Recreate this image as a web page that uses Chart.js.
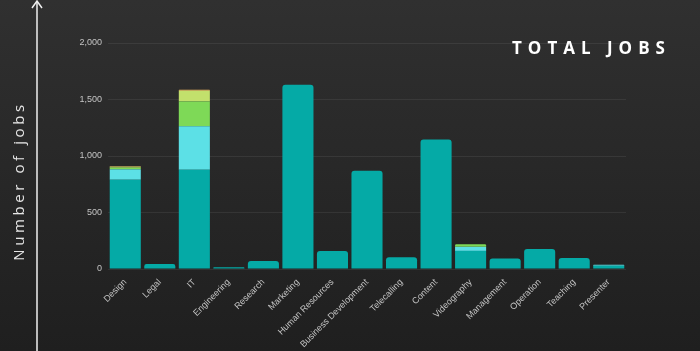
<!DOCTYPE html>
<html>
<head>
<meta charset="utf-8">
<script src="https://cdn.jsdelivr.net/npm/chart.js@4"></script>
<style>
  html, body { margin: 0; padding: 0; }
  body {
    width: 700px; height: 351px; overflow: hidden; position: relative;
    background: linear-gradient(#303030, #1f1f1f);
  }
  #wrap { position: absolute; left: 0; top: 0; width: 700px; height: 351px; }
  #title {
    position: absolute; left: 512px; top: 36px;
    font: bold 17px "Open Sans", sans-serif; letter-spacing: 6px; color: #fff;
  }
  #ytitle {
    position: absolute; left: 18px; top: 181px;
    transform: translate(-50%, -50%) rotate(-90deg);
    font: 15px "Open Sans", sans-serif; letter-spacing: 3.6px; color: #e6e6e6;
    white-space: nowrap;
  }
  svg { position: absolute; left: 0; top: 0; }
</style>
</head>
<body>
<div id="wrap"><canvas id="jobsChart" width="700" height="351"></canvas></div>
<svg width="60" height="351">
  <line x1="37" y1="2" x2="37" y2="351" stroke="#f0f0f0" stroke-width="1.5"/>
  <polyline points="32,8 37,1 42,8" fill="none" stroke="#f0f0f0" stroke-width="1.5"/>
</svg>
<div id="ytitle">Number of jobs</div>
<div id="title">TOTAL JOBS</div>
<script>
// categories on the x axis
const categories = ['Design', 'Legal', 'IT', 'Engineering', 'Research', 'Marketing',
  'Human Resources', 'Business Development', 'Telecalling', 'Content', 'Videography',
  'Management', 'Operation', 'Teaching', 'Presenter'];

// stacked series (bottom to top)
const series1 = [790, 44, 878, 15, 70, 1630, 160, 870, 105, 1145, 160, 94, 176, 97, 28];
const series2 = [92, 0, 385, 0, 0, 0, 0, 0, 0, 0, 36, 0, 0, 0, 10];
const series3 = [15, 0, 220, 0, 0, 0, 0, 0, 0, 0, 22, 0, 0, 0, 0];
const series4 = [8, 0, 95, 0, 0, 0, 0, 0, 0, 0, 0, 0, 0, 0, 0];
const series5 = [4, 0, 8, 0, 0, 0, 0, 0, 0, 0, 0, 0, 0, 0, 0];

const yTicks = [0, 500, 1000, 1500, 2000];

const allSeries = [series1, series2, series3, series4, series5];
const colors = ['#05aaa6', '#5ce0e6', '#7ed957', '#c2e06c', '#f2b662'];

// round only the top segment of each stack
function topIndex(i) {
  let top = 0;
  allSeries.forEach((s, k) => { if (s[i] > 0) top = k; });
  return top;
}

const ctx = document.getElementById('jobsChart').getContext('2d');

new Chart(ctx, {
  type: 'bar',
  data: {
    labels: categories,
    datasets: allSeries.map((s, k) => ({
      data: s,
      backgroundColor: colors[k],
      borderRadius: c => (topIndex(c.dataIndex) === c.datasetIndex ? 3 : 0),
      borderSkipped: 'start',
      barPercentage: 0.9,
      categoryPercentage: 1
    }))
  },
  options: {
    responsive: false,
    animation: false,
    layout: { padding: { left: 60, right: 74, top: 43, bottom: 0 } },
    plugins: { legend: { display: false }, tooltip: { enabled: false } },
    scales: {
      x: {
        stacked: true,
        grid: { display: false },
        border: { display: false },
        afterFit: s => { s.height = 82; },
        ticks: {
          color: '#c4c4c4',
          font: { family: 'Liberation Sans', size: 9 },
          maxRotation: 45, minRotation: 45,
          autoSkip: false, padding: 0
        }
      },
      y: {
        stacked: true,
        min: 0, max: 2000,
        afterBuildTicks: s => { s.ticks = yTicks.map(v => ({ value: v })); },
        afterFit: s => { s.width = 48; },
        grid: { color: 'rgba(255,255,255,0.07)', drawTicks: false },
        border: { display: false },
        ticks: {
          color: '#c4c4c4',
          font: { family: 'Liberation Sans', size: 9 },
          padding: 6
        }
      }
    }
  }
});
</script>
</body>
</html>
